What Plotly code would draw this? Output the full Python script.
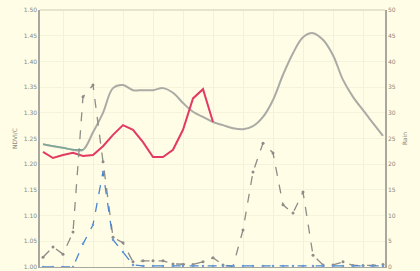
import plotly.graph_objects as go

# dekad index
dekads = list(range(1, 36))

ndvi = [1.239, 1.235, 1.232, 1.228, 1.228, 1.262, 1.300, 1.348, 1.354, 1.344,
        1.344, 1.344, 1.348, 1.339, 1.319, 1.302, 1.292, 1.282, 1.276, 1.270,
        1.268, 1.274, 1.292, 1.325, 1.374, 1.416, 1.447, 1.455, 1.442, 1.412,
        1.364, 1.331, 1.305, 1.280, 1.255]

green_start = [1.239, 1.235, 1.232, 1.228, 1.228]

red = [1.224, 1.212, 1.218, 1.222, 1.216, 1.218, 1.235, 1.257, 1.276, 1.267,
       1.243, 1.214, 1.214, 1.228, 1.267, 1.328, 1.346, 1.282]

rain = [1.9, 3.9, 2.5, 6.8, 33.1, 35.4, 20.5, 5.8, 4.7, 1.0,
        1.2, 1.2, 1.2, 0.6, 0.5, 0.5, 1.0, 1.8, 0.4, 0.1,
        7.2, 18.5, 24.1, 22.2, 12.1, 10.5, 14.6, 2.3, 0.4, 0.4,
        1.0, 0.3, 0.3, 0.3, 0.5]

blue = [0, 0, 0, 0, 4.5, 8.2, 18.5, 5.3, 2.9, 0.4,
        0.2, 0.2, 0.2, 0.2, 0.2, 0.2, 0.2, 0.2, 0.2, 0.2,
        0.2, 0.2, 0.2, 0.2, 0.2, 0.2, 0.2, 0.2, 0.2, 0.2,
        0.2, 0.2, 0.2, 0.2, 0.2]

left_ticks = [1.00, 1.05, 1.10, 1.15, 1.20, 1.25, 1.30, 1.35, 1.40, 1.45, 1.50]
right_ticks = [0, 5, 10, 15, 20, 25, 30, 35, 40, 45, 50]

bg = "#fffde6"
axis_col = "#a8a8a0"
text_col = "#8a8a80"

fig = go.Figure()

fig.add_trace(go.Scatter(x=dekads, y=rain, yaxis="y2", mode="lines+markers",
                         line=dict(color="#8c8c88", width=1.3, dash="dash"),
                         marker=dict(size=3, color="#8c8c88")))
fig.add_trace(go.Scatter(x=dekads, y=blue, yaxis="y2", mode="lines+markers",
                         line=dict(color="#4a86d0", width=1.3, dash="dash"),
                         marker=dict(size=2.5, color="#6a9ad8")))
fig.add_trace(go.Scatter(x=dekads, y=ndvi, mode="lines", line_shape="spline",
                         line=dict(color="#ababa6", width=2)))
fig.add_trace(go.Scatter(x=dekads[:len(green_start)], y=green_start, mode="lines",
                         line=dict(color="#7aa898", width=1.4)))
fig.add_trace(go.Scatter(x=dekads[:len(red)], y=red, mode="lines",
                         line=dict(color="#e23a62", width=2)))

fig.update_layout(
    width=420, height=271,
    margin=dict(l=40, r=35, t=10, b=4),
    paper_bgcolor=bg, plot_bgcolor=bg,
    showlegend=False,
    font=dict(family="DejaVu Sans", size=6, color=text_col),
    xaxis=dict(range=[0.7, 35.2], showticklabels=False, ticks="",
               showgrid=True, gridcolor="#f4f1d6", gridwidth=1, dtick=3,
               showline=True, linecolor=axis_col, linewidth=1, mirror=False,
               zeroline=False, automargin=False),
    yaxis=dict(range=[1.0, 1.5], tickvals=left_ticks, tickformat=".2f",
               showgrid=True, gridcolor="#f6f3dc",
               showline=True, linecolor=axis_col, linewidth=1.5,
               zeroline=False, ticks="", automargin=False,
               title=dict(text="NDVI/C", font=dict(size=6, color=text_col), standoff=6)),
    yaxis2=dict(range=[0, 50], tickvals=right_ticks, overlaying="y", side="right",
                showgrid=False, showline=True, linecolor=axis_col, linewidth=1.5,
                zeroline=False, ticks="", automargin=False,
                title=dict(text="Rain", font=dict(size=6, color=text_col), standoff=8)),
)

fig.add_shape(type="line", xref="paper", yref="paper", x0=0, x1=1, y0=1, y1=1,
              line=dict(color="#e6e4cc", width=2))

fig.write_html("out.html",
               config={"displayModeBar": False},
               post_script="document.body.style.margin='0';"
                           "document.body.style.background='" + bg + "';")
